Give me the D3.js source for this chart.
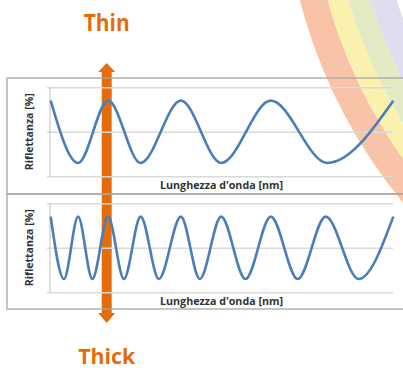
<!DOCTYPE html>
<html><head><meta charset="utf-8">
<script src="https://cdn.jsdelivr.net/npm/d3@7/dist/d3.min.js"></script>
<style>html,body{margin:0;padding:0;background:#fff;overflow:hidden}</style>
</head><body>
<svg id="c" width="403" height="371"></svg>
<script>
// ---- data ----
const topWavelengths = [400, 432, 467, 505, 552, 599, 657, 723, 800];
const topReflectance = [85, 15, 85, 15, 85, 15, 85, 15, 85];
const bottomWavelengths = [400, 415.5, 432, 448.6, 467, 485.5, 505, 526.3, 552, 574.1, 599, 627.4, 657, 688.4, 721, 759.5, 800];
const bottomReflectance = [85, 15, 85, 15, 85, 15, 85, 15, 85, 15, 85, 15, 85, 15, 85, 15, 85];
const yTicks = [0, 50, 100];
const yLabel = "Riflettanza [%]";
const xLabel = "Lunghezza d'onda [nm]";
const topText = "Thin";
const bottomText = "Thick";

const svg = d3.select("#c");
const orange = "#e46c0a";
const blue = "#4a7ebb";

// ---- decorative rainbow ----
const rainbow = [
  {r0: 500, r1: 527, c: "#f8c3a6"},
  {r0: 480, r1: 500, c: "#fbf1ae"},
  {r0: 459, r1: 480, c: "#e2ebc3"},
  {r0: 434, r1: 459, c: "#dfdef0"}
];
const rg = svg.append("g").attr("transform", "translate(810,-132)");
rainbow.forEach(b => {
  rg.append("path")
    .attr("d", d3.arc()({innerRadius: b.r0, outerRadius: b.r1, startAngle: Math.PI, endAngle: 2 * Math.PI}))
    .attr("fill", b.c);
});

// ---- arrow ----
const ax = 106.7;
svg.append("rect").attr("x", ax - 5).attr("y", 71).attr("width", 10).attr("height", 243).attr("fill", orange);
svg.append("path").attr("d", `M${ax - 8.5},72 L${ax},63 L${ax + 8.5},72 Z`).attr("fill", orange);
svg.append("path").attr("d", `M${ax - 8.5},313 L${ax},323 L${ax + 8.5},313 Z`).attr("fill", orange);

// ---- panels ----
const x = d3.scaleLinear().domain([400, 800]).range([50.7, 393.3]);
const panels = [
  {top: 87.3, bottom: 176.3, boxTop: 78, boxBottom: 194, xl: 189, wl: topWavelengths, rv: topReflectance},
  {top: 203.3, bottom: 292.3, boxTop: 194, boxBottom: 309, xl: 305, wl: bottomWavelengths, rv: bottomReflectance}
];

panels.forEach(p => {
  const y = d3.scaleLinear().domain([0, 100]).range([p.bottom, p.top]);
  svg.append("rect").attr("x", 7).attr("y", p.boxTop).attr("width", 420).attr("height", p.boxBottom - p.boxTop)
    .attr("fill", "none").attr("stroke", "#a6a6a6").attr("stroke-width", 1.3);
  const g = svg.append("g").attr("transform", "translate(47,0)")
    .call(d3.axisLeft(y).tickValues(yTicks).tickSize(-346).tickFormat(""));
  g.select(".domain").remove();
  g.selectAll(".tick line").attr("stroke", "#d9d9d9").attr("stroke-width", 1.5);
  svg.append("line").attr("x1", 50).attr("x2", 50).attr("y1", p.top).attr("y2", p.bottom)
    .attr("stroke", "#bfbfbf").attr("stroke-width", 1);
  const line = d3.line().x(d => x(d[0])).y(d => y(d[1])).curve(d3.curveMonotoneX);
  svg.append("path").datum(p.wl.map((w, i) => [w, p.rv[i]])).attr("d", line)
    .attr("fill", "none").attr("stroke", blue).attr("stroke-width", 2.6);
  const yc = (p.top + p.bottom) / 2;
  svg.append("text").attr("transform", `translate(33,${yc}) rotate(-90)`)
    .attr("text-anchor", "middle").attr("font-family", "Open Sans").attr("font-weight", "bold")
    .attr("font-size", 10).attr("fill", "#333").attr("textLength", 77).attr("lengthAdjust", "spacingAndGlyphs")
    .text(yLabel);
  svg.append("text").attr("x", 221.5).attr("y", p.xl)
    .attr("text-anchor", "middle").attr("font-family", "Open Sans").attr("font-weight", "bold")
    .attr("font-size", 10.5).attr("fill", "#333").attr("textLength", 123).attr("lengthAdjust", "spacingAndGlyphs")
    .text(xLabel);
});

svg.append("text").attr("x", ax).attr("y", 31).attr("text-anchor", "middle")
  .attr("font-family", "Open Sans").attr("font-weight", "bold").attr("font-size", 24).attr("fill", orange)
  .attr("textLength", 46).attr("lengthAdjust", "spacingAndGlyphs").text(topText);
svg.append("text").attr("x", ax).attr("y", 364).attr("text-anchor", "middle")
  .attr("font-family", "Open Sans").attr("font-weight", "bold").attr("font-size", 22).attr("fill", orange)
  .attr("textLength", 57).attr("lengthAdjust", "spacingAndGlyphs").text(bottomText);
</script>
</body></html>
